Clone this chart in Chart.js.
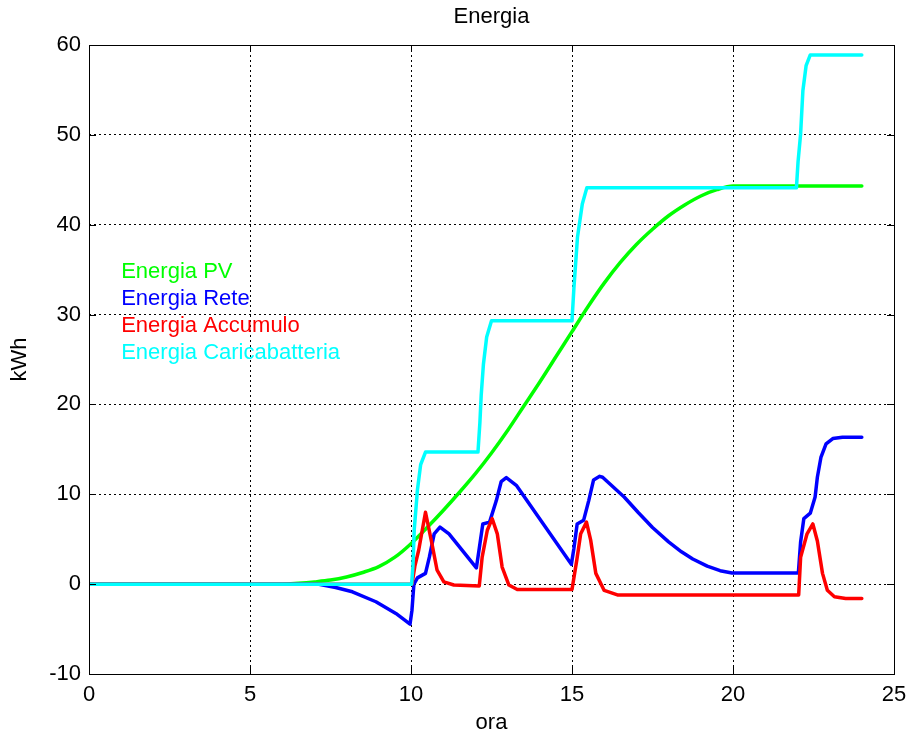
<!DOCTYPE html>
<html>
<head>
    <title>Energia</title>
    <script src="https://cdn.jsdelivr.net/npm/chart.js"></script>
    <style>
        body {
            margin: 0;
            background-color: #ffffff;
        }
        #chart {
            display: block;
        }
    </style>
</head>
<body>
    <canvas id="chart" width="906" height="738"></canvas>

    <script>
        // values (hours / kWh)
        const pvHours = [0, 6, 6.5, 7, 7.5, 8, 8.5, 9, 9.5, 10, 10.5, 11, 11.5, 12, 12.5, 13, 13.5, 14, 14.5, 15, 15.5, 16, 16.5, 17, 17.5, 18, 18.5, 19, 19.5, 20, 24];
        const pvValues = [0, 0, 0.1, 0.25, 0.45, 0.8, 1.3, 1.95, 3.0, 4.5, 6.3, 8.2, 10.2, 12.3, 14.6, 17.1, 19.8, 22.5, 25.3, 28.1, 30.9, 33.5, 35.8, 37.8, 39.5, 41.0, 42.2, 43.2, 43.9, 44.3, 44.3];

        const reteHours = [0, 7.1, 7.66, 8.18, 8.91, 9.53, 9.97, 10.03, 10.09, 10.2, 10.45, 10.57, 10.72, 10.9, 11.18, 12.03, 12.1, 12.23, 12.44, 12.65, 12.8, 12.96, 13.27, 14.98, 15.06, 15.16, 15.36, 15.52, 15.67, 15.86, 15.95, 16.62, 17.05, 17.5, 18.0, 18.4, 18.75, 19.2, 19.6, 19.97, 22.03, 22.1, 22.2, 22.4, 22.55, 22.62, 22.73, 22.89, 23.1, 23.4, 24];
        const reteValues = [0, 0, -0.37, -0.85, -1.96, -3.26, -4.45, -2.9, 0, 0.7, 1.2, 3.0, 5.6, 6.35, 5.6, 1.8, 3.5, 6.7, 6.9, 9.3, 11.4, 11.85, 11.0, 2.2, 4.0, 6.7, 7.1, 9.3, 11.6, 12.0, 11.9, 9.7, 8.0, 6.3, 4.7, 3.6, 2.8, 2.0, 1.5, 1.25, 1.25, 4.7, 7.3, 7.9, 9.7, 11.9, 14.1, 15.6, 16.2, 16.35, 16.35];

        const accHours = [0, 10.03, 10.12, 10.24, 10.45, 10.65, 10.81, 11.02, 11.33, 12.12, 12.21, 12.37, 12.52, 12.68, 12.83, 13.04, 13.3, 15.0, 15.15, 15.27, 15.45, 15.58, 15.74, 16.0, 16.41, 22.04, 22.1, 22.3, 22.48, 22.62, 22.78, 22.93, 23.15, 23.5, 24];
        const accValues = [0, 0, 2.0, 3.8, 8.0, 4.5, 1.55, 0.25, -0.1, -0.2, 3.0, 6.0, 7.3, 5.6, 1.9, -0.1, -0.6, -0.6, 2.7, 5.6, 6.9, 4.9, 1.2, -0.7, -1.2, -1.2, 3.0, 5.6, 6.7, 4.8, 1.2, -0.67, -1.4, -1.6, -1.6];

        const caricaHours = [0, 10.02, 10.06, 10.1, 10.2, 10.3, 10.45, 12.08, 12.14, 12.18, 12.25, 12.35, 12.5, 15.0, 15.06, 15.17, 15.32, 15.46, 21.97, 22.02, 22.1, 22.17, 22.27, 22.4, 24];
        const caricaValues = [0, 0, 2, 6, 10.5, 13.3, 14.7, 14.7, 18, 21, 24.5, 27.5, 29.3, 29.3, 33, 38.6, 42.3, 44.1, 44.1, 47, 50.1, 54.9, 57.7, 58.9, 58.9];

        const seriesNames = ['Energia PV', 'Energia Rete', 'Energia Accumulo', 'Energia Caricabatteria'];
        const seriesColors = ['#00ff00', '#0000ff', '#ff0000', '#00ffff'];

        // text labels placed inside the axes (data coordinates)
        const labelX = 1;
        const labelY = [35, 32, 29, 26];

        const xTicks = [0, 5, 10, 15, 20, 25];
        const yTicks = [-10, 0, 10, 20, 30, 40, 50, 60];

        const chartTitle = 'Energia';
        const xTitle = 'ora';
        const yTitle = 'kWh';

        const FONT = "'Liberation Sans', Arial, Helvetica, sans-serif";

        function toPoints(hours, values) {
            return hours.map((h, i) => ({ x: h, y: values[i] }));
        }

        // box, inner tick marks, title and the in-plot labels
        const matlabAxes = {
            id: 'matlabAxes',
            afterDraw(chart) {
                const ctx = chart.ctx;
                const area = chart.chartArea;
                const xs = chart.scales.x;
                const ys = chart.scales.y;
                ctx.save();

                ctx.strokeStyle = '#000';
                ctx.lineWidth = 1;
                ctx.setLineDash([]);
                ctx.strokeRect(Math.round(area.left) + 0.5, Math.round(area.top) + 0.5,
                    Math.round(area.width), Math.round(area.height));

                ctx.beginPath();
                xTicks.forEach(t => {
                    const px = Math.round(xs.getPixelForValue(t)) + 0.5;
                    ctx.moveTo(px, area.bottom); ctx.lineTo(px, area.bottom - 7);
                    ctx.moveTo(px, area.top); ctx.lineTo(px, area.top + 7);
                });
                yTicks.forEach(t => {
                    const py = Math.round(ys.getPixelForValue(t)) + 0.5;
                    ctx.moveTo(area.left, py); ctx.lineTo(area.left + 7, py);
                    ctx.moveTo(area.right, py); ctx.lineTo(area.right - 7, py);
                });
                ctx.stroke();

                ctx.fillStyle = '#000';
                ctx.font = '22px ' + FONT;
                ctx.textAlign = 'center';
                ctx.textBaseline = 'middle';
                ctx.fillText(chartTitle, (area.left + area.right) / 2, 17);

                ctx.textAlign = 'left';
                ctx.textBaseline = 'alphabetic';
                seriesNames.forEach((name, i) => {
                    ctx.fillStyle = seriesColors[i];
                    ctx.fillText(name, xs.getPixelForValue(labelX), ys.getPixelForValue(labelY[i]) + 8);
                });

                ctx.restore();
            }
        };

        const ctx = document.getElementById('chart').getContext('2d');
        new Chart(ctx, {
            type: 'line',
            data: {
                datasets: [
                    { label: seriesNames[0], data: toPoints(pvHours, pvValues), borderColor: seriesColors[0], order: 4, cubicInterpolationMode: 'monotone' },
                    { label: seriesNames[1], data: toPoints(reteHours, reteValues), borderColor: seriesColors[1], order: 3 },
                    { label: seriesNames[2], data: toPoints(accHours, accValues), borderColor: seriesColors[2], order: 2 },
                    { label: seriesNames[3], data: toPoints(caricaHours, caricaValues), borderColor: seriesColors[3], order: 1 }
                ]
            },
            options: {
                responsive: false,
                animation: false,
                events: [],
                layout: {
                    padding: { left: 0, right: 12, top: 45, bottom: 0 }
                },
                elements: {
                    line: { borderWidth: 3.5, tension: 0, fill: false, borderJoinStyle: 'round', borderCapStyle: 'round' },
                    point: { radius: 0 }
                },
                scales: {
                    x: {
                        type: 'linear',
                        min: 0,
                        max: 25,
                        afterBuildTicks: scale => { scale.ticks = xTicks.map(v => ({ value: v })); },
                        afterFit: scale => {
                            scale.height = 64;
                            scale.paddingLeft = 0;
                            scale.paddingRight = 0;
                        },
                        grid: { color: '#000', lineWidth: 1, drawTicks: false },
                        border: { display: false, dash: [2, 3] },
                        ticks: {
                            color: '#000',
                            padding: 8,
                            maxRotation: 0,
                            autoSkip: false,
                            font: { family: FONT, size: 22 }
                        },
                        title: {
                            display: true,
                            text: xTitle,
                            color: '#000',
                            padding: { top: 0, bottom: 2 },
                            font: { family: FONT, size: 22 }
                        }
                    },
                    y: {
                        min: -10,
                        max: 60,
                        afterBuildTicks: scale => { scale.ticks = yTicks.map(v => ({ value: v })); },
                        afterFit: scale => {
                            scale.width = 89;
                            scale.paddingTop = 0;
                            scale.paddingBottom = 0;
                        },
                        grid: { color: '#000', lineWidth: 1, drawTicks: false },
                        border: { display: false, dash: [2, 3] },
                        ticks: {
                            color: '#000',
                            padding: 8,
                            autoSkip: false,
                            font: { family: FONT, size: 22 }
                        },
                        title: {
                            display: true,
                            text: yTitle,
                            color: '#000',
                            padding: { top: 7, bottom: 0 },
                            font: { family: FONT, size: 22 }
                        }
                    }
                },
                plugins: {
                    legend: { display: false },
                    tooltip: { enabled: false }
                }
            },
            plugins: [matlabAxes]
        });
    </script>
</body>
</html>
